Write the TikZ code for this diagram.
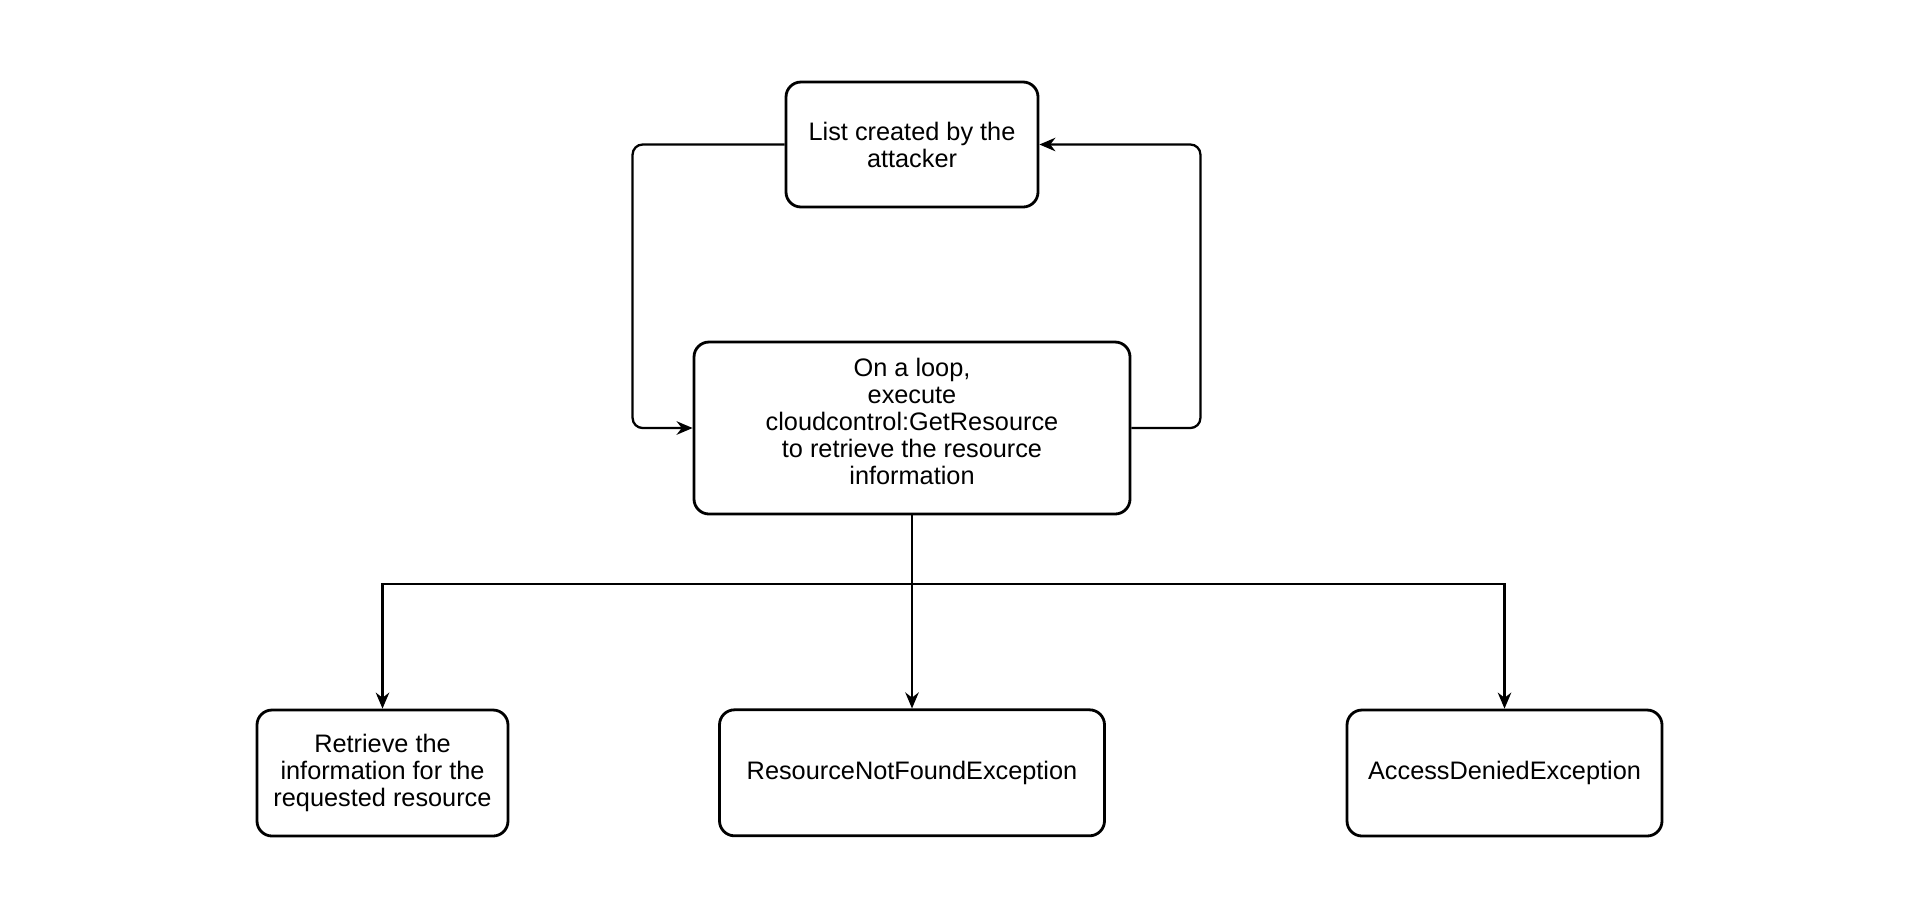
\documentclass[tikz,border=0pt]{standalone}
\usepackage{fontspec}
\setmainfont{Liberation Sans}
\usetikzlibrary{positioning,arrows.meta}

\begin{document}
\begin{tikzpicture}[
        box/.style={draw, line width=0.8pt, rounded corners=0.15cm, align=center,
            font=\fontsize{7.2}{7.7}\selectfont, inner sep=0pt},
        link/.style={line width=0.65pt, rounded corners=0.1cm},
        >={Stealth[length=1.6mm, width=1.35mm]}
    ]
        \useasboundingbox (0,0) rectangle (19.2,-9.17);

        \node[box, minimum width=2.52cm, minimum height=1.25cm] (list) at (9.12,-1.445) {List created by the\\attacker};
        \node[box, minimum width=4.36cm, minimum height=1.72cm] (exec) at (9.12,-4.28)
            {On a loop,\\execute\\cloudcontrol:GetResource\\to retrieve the resource\\information\\[-0.13cm]};

        \node[box, minimum width=3.85cm, minimum height=1.26cm, below = 1.93 of exec] (notfound) {ResourceNotFoundException};
        \node[box, minimum width=2.51cm, minimum height=1.26cm] (info) at (3.825,-7.73) {Retrieve the\\information for the\\requested resource};
        \node[box, minimum width=3.15cm, minimum height=1.26cm] (denied) at (15.045,-7.73) {AccessDeniedException};

        % loop between the list and the call
        \draw[link, ->] (list.west) -- ++(-1.52,0) |- (exec.west);
        \draw[link, ->] (exec.east) -- ++(0.69,0) |- (list.east);

        % results of the call
        \coordinate (bus) at (9.12,-5.84);
        \draw[link, rounded corners=0] (exec.south) -- (bus);
        \draw[link, ->, rounded corners=0] (bus) -| (info.north);
        \draw[link, ->] (bus) -- (notfound.north);
        \draw[link, ->, rounded corners=0] (bus) -| (denied.north);
    \end{tikzpicture}
\end{document}
